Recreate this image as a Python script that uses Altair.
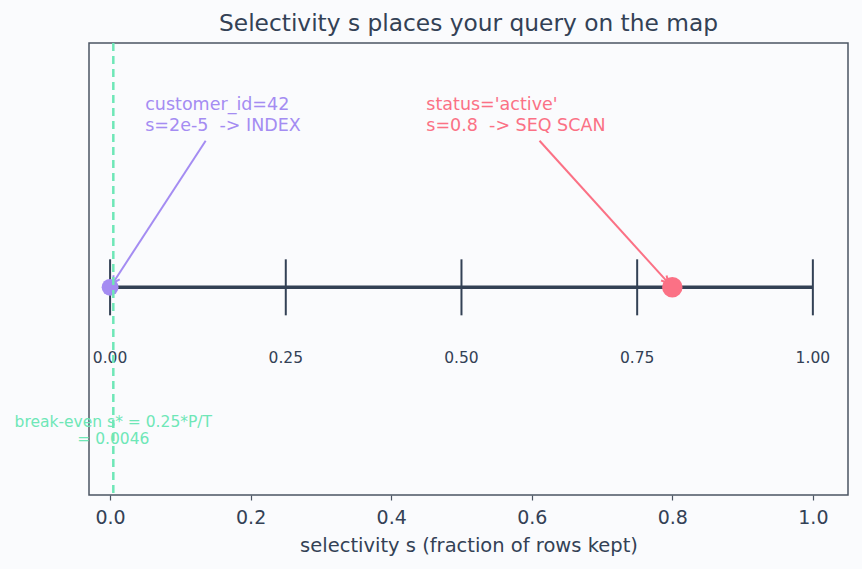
import math
import altair as alt
import pandas as pd

# --- values -------------------------------------------------------------
line_ticks = [0.0, 0.25, 0.5, 0.75, 1.0]
line_tick_labels = ["0.00", "0.25", "0.50", "0.75", "1.00"]

query_names = ["customer_id=42", "status='active'"]
query_s = [2e-5, 0.8]
query_s_text = ["2e-5", "0.8"]
query_plans = ["INDEX", "SEQ SCAN"]
query_colors = ["#a48cf2", "#fb7185"]
query_sizes = [285, 420]

break_even = 0.0046
break_even_text = ["break-even s* = 0.25*P/T", "= 0.0046"]

axis_values = [0.0, 0.2, 0.4, 0.6, 0.8, 1.0]

# --- layout -------------------------------------------------------------
W, H = 759, 452
X_DOM = [-0.03, 1.05]
Y_DOM = [-0.85, 1.0]
PX_X = W / (X_DOM[1] - X_DOM[0])
PX_Y = H / (Y_DOM[1] - Y_DOM[0])

INK = "#334155"
FRAME = "#4b5563"
GREEN = "#6ee7b7"
BG = "#fafbfd"
FONT = "DejaVu Sans"
NBSP = "\u00a0"

xs = alt.Scale(domain=X_DOM, nice=False, zero=False)
ys = alt.Scale(domain=Y_DOM, nice=False, zero=False)
x_axis = alt.Axis(
    values=axis_values, format=".1f", title="selectivity s (fraction of rows kept)",
    grid=False, domain=False, tickSize=5, tickColor=FRAME, tickWidth=1.2,
    labelFontSize=19, labelColor=INK, labelPadding=8, labelFont=FONT,
    titleFontSize=19.5, titleColor=INK, titleFontWeight="normal", titleFont=FONT,
    titlePadding=9,
)


def X(field, **kw):
    return alt.X(field, type="quantitative", scale=xs, axis=x_axis, **kw)


def Y(field, **kw):
    return alt.Y(field, type="quantitative", scale=ys, axis=None, **kw)


# number line
line_df = pd.DataFrame({"x0": [line_ticks[0]], "x1": [line_ticks[-1]], "y": [0.0]})
number_line = alt.Chart(line_df).mark_rule(color=INK, strokeWidth=3.5).encode(
    x=X("x0"), x2="x1", y=Y("y")
)

ticks_df = pd.DataFrame({"s": line_ticks, "label": line_tick_labels, "y": 0.0})
tick_marks = alt.Chart(ticks_df).mark_tick(
    color=INK, orient="vertical", size=56, thickness=2, opacity=1
).encode(x=X("s"), y=Y("y"))
tick_text = alt.Chart(ticks_df).mark_text(
    font=FONT, fontSize=15.5, color=INK, baseline="middle", dy=71
).encode(x=X("s"), y=Y("y"), text="label")

# query dots
q_df = pd.DataFrame({
    "s": query_s, "y": 0.0, "color": query_colors, "size": query_sizes,
})
dots = alt.Chart(q_df).mark_circle(opacity=1).encode(
    x=X("s"), y=Y("y"),
    color=alt.Color("color:N", scale=None),
    size=alt.Size("size:Q", scale=None),
)

# annotations with arrows pointing at the dots
TEXT_X = [0.05, 0.45]
TEXT_Y = 0.748          # first text line
TEXT_CENTER_Y = 0.707   # middle of the two-line block
TEXT_W_PX = [155, 179]
ARROW_START_Y = 0.6
ARROW_END_Y = 0.018

ann_rows = []
arrow_rows = []
for name, s, st, plan, col, tx, tw in zip(
    query_names, query_s, query_s_text, query_plans, query_colors, TEXT_X, TEXT_W_PX
):
    ann_rows.append({"x": tx, "y": TEXT_Y,
                     "text": [name, f"s={st}{NBSP} -> {plan}"], "color": col})
    cx = tx + tw / 2 / PX_X
    # straight line from the text centre to the dot
    def at_y(yv):
        t = (TEXT_CENTER_Y - yv) / TEXT_CENTER_Y
        return cx + (s - cx) * t
    x0, x1 = at_y(ARROW_START_Y), at_y(ARROW_END_Y)
    dxp = (x1 - x0) * PX_X
    dyp = (ARROW_START_Y - ARROW_END_Y) * PX_Y
    ang = math.degrees(math.atan2(dxp, -dyp)) % 360
    arrow_rows.append({"x0": x0, "y0": ARROW_START_Y, "x1": x1, "y1": ARROW_END_Y,
                       "color": col, "angle": ang})

ann_df = pd.DataFrame(ann_rows)
arrow_df = pd.DataFrame(arrow_rows)

ann_text = alt.Chart(ann_df).mark_text(
    font=FONT, fontSize=17.5, align="left", baseline="middle", lineHeight=21
).encode(x=X("x"), y=Y("y"), text="text", color=alt.Color("color:N", scale=None))

arrow_lines = alt.Chart(arrow_df).mark_rule(strokeWidth=2).encode(
    x=X("x0"), y=Y("y0"), x2="x1", y2="y1", color=alt.Color("color:N", scale=None)
)
arrow_heads = alt.Chart(arrow_df).mark_point(
    shape="M -0.55 1 L 0 0 L 0.55 1", filled=False, strokeWidth=2, size=180, opacity=1
).encode(
    x=X("x1"), y=Y("y1"), angle=alt.Angle("angle:Q", scale=None),
    color=alt.Color("color:N", scale=None),
)

# break-even threshold
be_df = pd.DataFrame({"s": [break_even], "y": [-0.553], "text": [break_even_text]})
be_rule = alt.Chart(be_df).mark_rule(
    color=GREEN, strokeWidth=2.5, strokeDash=[8, 5]
).encode(x=X("s"))
be_text = alt.Chart(be_df).mark_text(
    font=FONT, fontSize=15.5, color=GREEN, align="center", baseline="middle", lineHeight=17
).encode(x=X("s"), y=Y("y"), text="text")

chart = alt.layer(
    number_line, tick_marks, tick_text, dots, arrow_lines, arrow_heads,
    ann_text, be_rule, be_text,
).properties(
    width=W, height=H,
    autosize="none",
    padding={"left": 89, "top": 43, "right": 14, "bottom": 74},
    background=BG,
    title=alt.TitleParams(
        "Selectivity s places your query on the map",
        font=FONT, fontSize=23.3, fontWeight="normal", color=INK,
        anchor="middle", offset=5,
    ),
).configure_view(
    stroke=FRAME, strokeWidth=1.5, fill=BG
)

chart.save("out.html", embed_options={"renderer": "svg", "actions": False})
